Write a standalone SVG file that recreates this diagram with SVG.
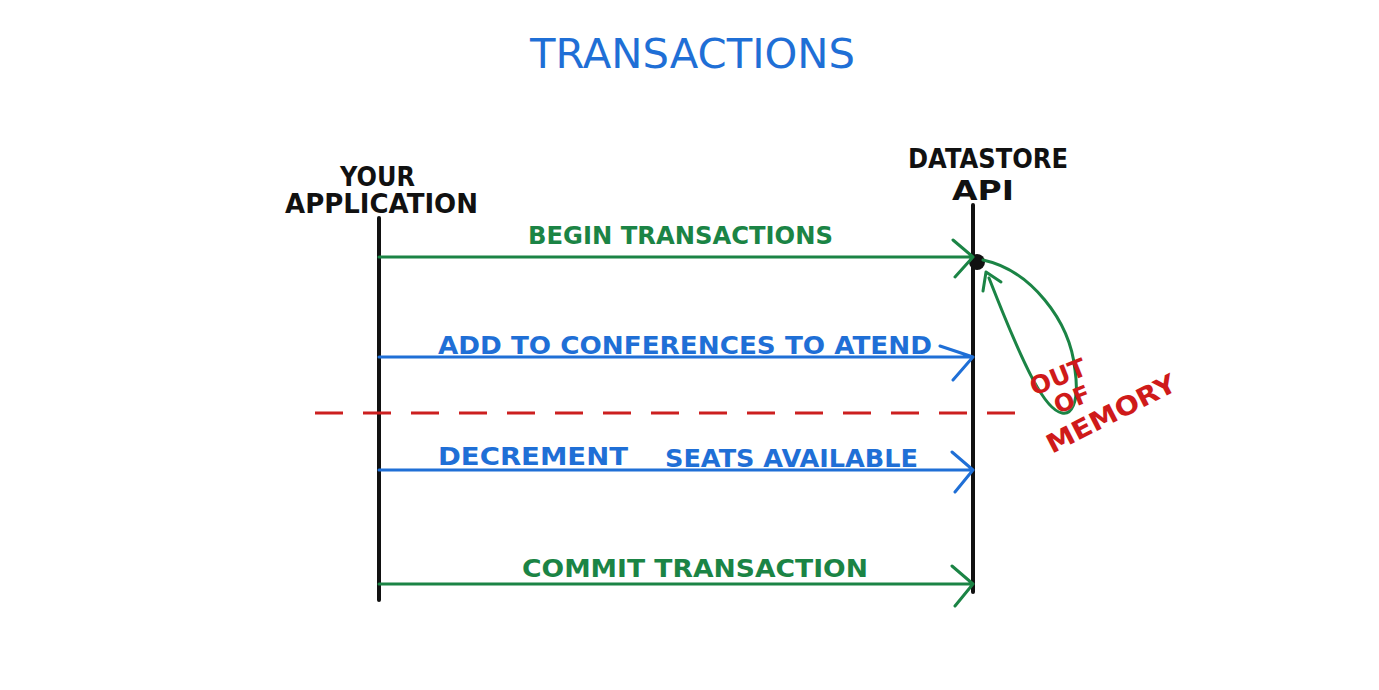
<svg xmlns="http://www.w3.org/2000/svg" width="1379" height="690" viewBox="0 0 1379 690">
  <style>
    .lbl { font-family: "DejaVu Sans", "Liberation Sans", sans-serif; font-weight: bold; }
    .thin { font-weight: normal; }
    .blk { fill: #111; }
    .grn { fill: #1b8445; }
    .blu { fill: #1f6fd6; }
    .red { fill: #cf1a1a; }
    .life { stroke: #111; stroke-width: 4; stroke-linecap: round; }
    .msg { fill: none; stroke-width: 3; stroke-linecap: round; stroke-linejoin: round; }
    .g { stroke: #1b8445; }
    .b { stroke: #1f6fd6; }
  </style>
  <rect width="1379" height="690" fill="#ffffff"/>

  <text class="lbl thin blu" x="530" y="68" font-size="40" textLength="325" lengthAdjust="spacingAndGlyphs">TRANSACTIONS</text>

  <g id="app">
    <text class="lbl blk" x="340" y="186" font-size="26" textLength="75" lengthAdjust="spacingAndGlyphs">YOUR</text>
    <text class="lbl blk" x="285" y="213" font-size="26" textLength="193" lengthAdjust="spacingAndGlyphs">APPLICATION</text>
    <line class="life" x1="379" y1="218" x2="379" y2="600"/>
  </g>

  <g id="datastore">
    <text class="lbl blk" x="908" y="168" font-size="26" textLength="160" lengthAdjust="spacingAndGlyphs">DATASTORE</text>
    <text class="lbl blk" x="952" y="200" font-size="26" textLength="62" lengthAdjust="spacingAndGlyphs">API</text>
    <line class="life" x1="973" y1="205" x2="973" y2="592"/>
    <circle cx="977" cy="262" r="8" fill="#111"/>
  </g>

  <g id="connectors">
    <!-- begin transaction -->
    <path class="msg g" d="M379 257 L973 257 M953 240 L973 257 L955 277"/>
    <text class="lbl grn" x="528" y="244" font-size="25" textLength="305" lengthAdjust="spacingAndGlyphs">BEGIN TRANSACTIONS</text>
    <!-- add to conferences -->
    <path class="msg b" d="M379 357 L973 357 M940 346 L973 357 L953 380"/>
    <text class="lbl blu" x="438" y="354" font-size="25" textLength="494" lengthAdjust="spacingAndGlyphs">ADD TO CONFERENCES TO ATEND</text>
    <!-- decrement seats -->
    <path class="msg b" d="M379 470 L973 470 M952 452 L973 470 L955 492"/>
    <text class="lbl blu" x="438" y="465" font-size="25" textLength="190" lengthAdjust="spacingAndGlyphs">DECREMENT</text>
    <text class="lbl blu" x="665" y="467" font-size="25" textLength="253" lengthAdjust="spacingAndGlyphs">SEATS AVAILABLE</text>
    <!-- commit -->
    <path class="msg g" d="M379 584 L973 584 M952 566 L973 584 L955 606"/>
    <text class="lbl grn" x="522" y="577" font-size="25" textLength="346" lengthAdjust="spacingAndGlyphs">COMMIT TRANSACTION</text>
    <!-- failure loop back to begin -->
    <path class="msg g" d="M983 260 C1030 270 1070 320 1075 370 C1080 405 1070 415 1062 413 C1045 410 1025 370 989 278"/>
    <path class="msg g" d="M983 291 L986 272 L1001 282"/>
    <!-- failure boundary -->
    <line x1="315" y1="413" x2="1030" y2="413" stroke="#cc1f1f" stroke-width="3" stroke-dasharray="28 20"/>
  </g>

  <g id="out-of-memory">
    <text class="lbl red" font-size="25" transform="translate(1034 396) rotate(-22)">OUT</text>
    <text class="lbl red" font-size="24" transform="translate(1058 414) rotate(-22)">OF</text>
    <text class="lbl red" font-size="26" transform="translate(1052 454) rotate(-27)" textLength="142" lengthAdjust="spacingAndGlyphs">MEMORY</text>
  </g>
</svg>
